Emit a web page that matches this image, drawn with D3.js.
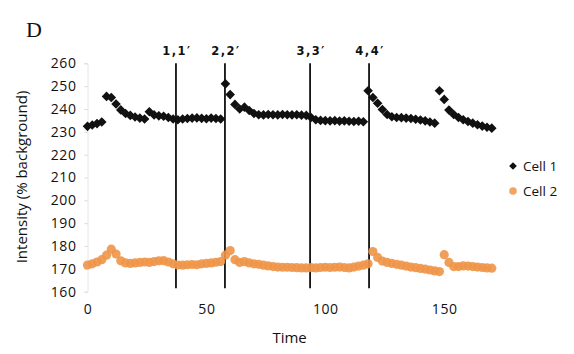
<!DOCTYPE html>
<html>
<head>
<meta charset="utf-8">
<script src="https://cdn.jsdelivr.net/npm/d3@7"></script>
<style>
body { margin: 0; background: #fff; }
text { font-family: "Open Sans", sans-serif; fill: #111; }
</style>
</head>
<body>
<script>
var w = 574;
var h = 354;

// data
var times = [0,2,4,6,8,10,12,14,16,18,20,22,24,26,28,30,32,34,36,38,40,42,44,46,48,50,52,54,56,58,60,62,64,66,68,70,72,74,76,78,80,82,84,86,88,90,92,94,96,98,100,102,104,106,108,110,112,114,116,118,120,122,124,126,128,130,132,134,136,138,140,142,144,146,148,150,152,154,156,158,160,162,164,166,168,170];
var cell1 = [232.4,233.0,233.6,234.3,245.5,245.0,242.2,239.6,238.0,237.2,236.5,236.0,235.6,238.8,237.4,237.0,236.8,236.3,235.6,235.3,235.6,235.8,236.0,236.1,235.9,235.7,236.0,235.8,235.6,251.0,246.3,242.0,240.0,240.8,239.3,238.0,237.5,237.4,237.6,237.5,237.4,237.6,237.5,237.4,237.5,237.3,237.2,236.3,235.3,235.0,234.9,234.8,234.9,234.7,234.8,234.6,234.5,234.6,234.4,248.0,245.0,242.5,239.8,237.6,236.6,236.3,236.2,236.0,235.8,235.5,235.2,234.8,234.3,233.8,248.0,244.2,239.5,237.6,236.3,235.3,234.5,233.8,233.1,232.5,232.0,231.6];
var cell2 = [171.7,172.2,173.0,174.0,176.0,178.6,176.5,173.5,172.6,172.4,172.6,172.8,173.0,172.8,173.2,173.5,173.6,173.0,172.2,171.7,171.6,171.8,171.9,171.8,172.2,172.4,172.6,172.9,173.2,176.0,178.0,174.0,172.8,173.2,172.6,172.2,172.0,171.6,171.3,171.0,170.8,170.7,170.7,170.6,170.5,170.4,170.4,170.5,170.4,170.6,170.7,170.6,170.7,170.8,170.6,170.4,170.8,171.2,171.6,172.2,177.6,175.0,173.4,172.8,172.4,172.0,171.6,171.2,170.8,170.5,170.2,169.9,169.5,169.1,168.8,176.2,172.8,171.0,171.0,171.3,171.2,171.0,170.8,170.6,170.4,170.3];
var stimTimes = [37.2, 57.8, 93.6, 118.4];
var stimLabels = ["1,1\u2032", "2,2\u2032", "3,3\u2032", "4,4\u2032"];
var yTicks = [160,170,180,190,200,210,220,230,240,250,260];
var xTicks = [0,50,100,150];
var seriesNames = ["Cell 1", "Cell 2"];

var xScale = d3.scaleLinear()
    .domain([0, 170])
    .range([87.5, 87.5 + 170 * 2.378]);

var yScale = d3.scaleLinear()
    .domain([160, 260])
    .range([291.7, 63.3]);

var svg = d3.select('body').append('svg')
    .attr('width', w)
    .attr('height', h);

svg.append('rect')
    .attr('width', w)
    .attr('height', h)
    .attr('fill', '#fff');

// Y-axis (very faint in the original)
var yAxis = d3.axisLeft(yScale)
    .tickValues(yTicks)
    .tickSize(3)
    .tickPadding(8);

var gy = svg.append('g')
    .attr('transform', 'translate(' + xScale(0) + ',0)')
    .call(yAxis);
gy.select('.domain').attr('stroke', '#e6e6e6');
gy.selectAll('.tick line').attr('stroke', '#d8d8d8');
gy.selectAll('.tick text')
    .style('font-size', '14px')
    .style('letter-spacing', '0.6px')
    .attr('fill', '#111');

// X-axis: labels only
var xAxis = d3.axisBottom(xScale)
    .tickValues(xTicks)
    .tickSize(0)
    .tickPadding(0);

var gx = svg.append('g')
    .attr('transform', 'translate(0,304)')
    .call(xAxis);
gx.select('.domain').remove();
gx.selectAll('.tick text')
    .style('font-size', '14px')
    .style('letter-spacing', '0.6px')
    .attr('fill', '#111');

svg.append('text')
    .attr('x', xScale(85))
    .attr('y', 343)
    .style('text-anchor', 'middle')
    .style('font-size', '15px')
    .text('Time');

svg.append('text')
    .attr('transform', 'translate(27,177) rotate(-90)')
    .style('text-anchor', 'middle')
    .style('font-size', '15px')
    .text('Intensity (% background)');

svg.append('text')
    .attr('x', 26)
    .attr('y', 37)
    .style('font-family', '"Liberation Serif", serif')
    .style('font-size', '22px')
    .text('D');

// stimulus lines
svg.selectAll('.stim')
    .data(stimTimes)
    .enter()
    .append('line')
    .attr('class', 'stim')
    .attr('x1', function (d) { return xScale(d); })
    .attr('x2', function (d) { return xScale(d); })
    .attr('y1', yScale(260))
    .attr('y2', yScale(161.5))
    .attr('stroke', '#111')
    .attr('stroke-width', 1.8);

svg.selectAll('.stimLabel')
    .data(stimTimes)
    .enter()
    .append('text')
    .attr('class', 'stimLabel')
    .attr('x', function (d) { return xScale(d) + 1; })
    .attr('y', 55)
    .style('text-anchor', 'middle')
    .style('font-family', '"DejaVu Sans", sans-serif')
    .style('font-weight', 'bold')
    .style('font-size', '11.5px')
    .style('letter-spacing', '1.5px')
    .text(function (d, i) { return stimLabels[i]; });

var diamond = d3.symbol().type(d3.symbolSquare).size(46);

// Cell 2 (orange circles)
svg.append('g').selectAll('circle')
    .data(times)
    .enter()
    .append('circle')
    .attr('cx', function (d) { return xScale(d); })
    .attr('cy', function (d, i) { return yScale(cell2[i]); })
    .attr('r', 4.6)
    .attr('fill', '#ee9548')
    .attr('opacity', 0.9);

// Cell 1 (black diamonds)
svg.append('g').selectAll('path')
    .data(times)
    .enter()
    .append('path')
    .attr('d', diamond)
    .attr('transform', function (d, i) {
        return 'translate(' + xScale(d) + ',' + yScale(cell1[i]) + ') rotate(45)';
    })
    .attr('fill', '#111');

// legend
var legend = svg.append('g');
legend.append('path')
    .attr('d', d3.symbol().type(d3.symbolSquare).size(30))
    .attr('transform', 'translate(513,166) rotate(45)')
    .attr('fill', '#111');
legend.append('circle')
    .attr('cx', 513)
    .attr('cy', 191)
    .attr('r', 3.8)
    .attr('fill', '#ee9548')
    .attr('opacity', 0.85);
legend.selectAll('text')
    .data(seriesNames)
    .enter()
    .append('text')
    .attr('x', 523)
    .attr('y', function (d, i) { return 171 + i * 25; })
    .style('font-size', '13.5px')
    .text(function (d) { return d; });
</script>
</body>
</html>
